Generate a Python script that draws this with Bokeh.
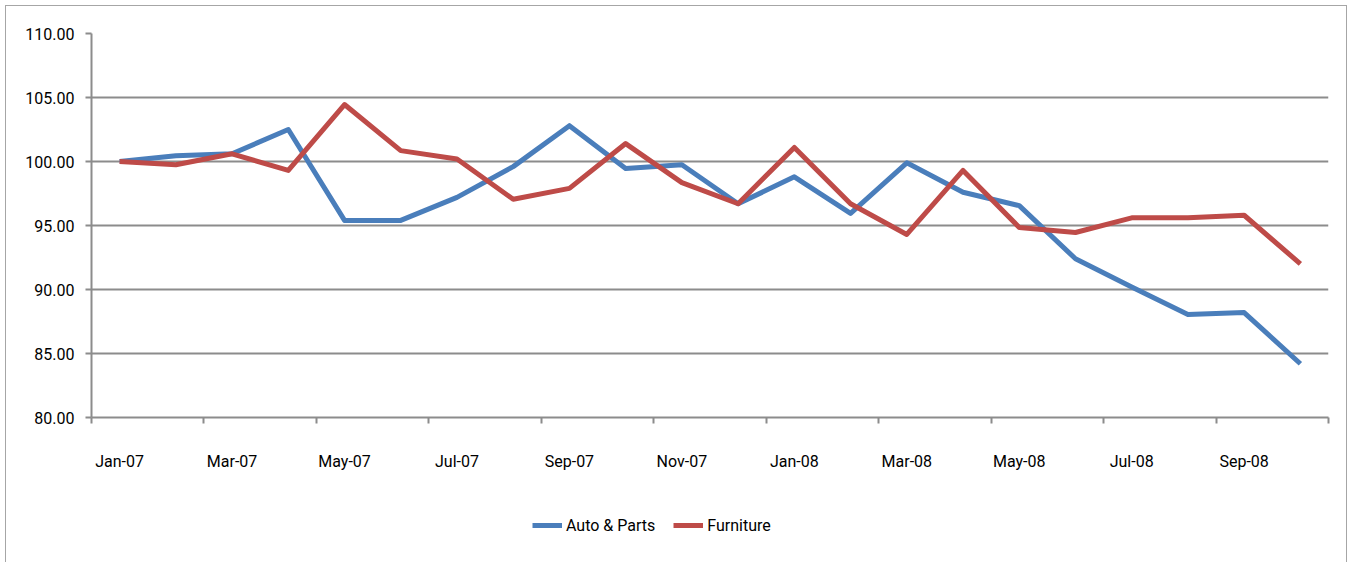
from bokeh.plotting import figure
from bokeh.layouts import column
from bokeh.models import (Legend, LegendItem, FixedTicker, LinearAxis, Range1d,
                          CustomJSTickFormatter, NumeralTickFormatter, ColumnDataSource)
from bokeh.embed import file_html
from bokeh.resources import INLINE

months = ["Jan-07", "Feb-07", "Mar-07", "Apr-07", "May-07", "Jun-07", "Jul-07", "Aug-07",
          "Sep-07", "Oct-07", "Nov-07", "Dec-07", "Jan-08", "Feb-08", "Mar-08", "Apr-08",
          "May-08", "Jun-08", "Jul-08", "Aug-08", "Sep-08", "Oct-08"]
auto_parts = [100.0, 100.45, 100.6, 102.5, 95.4, 95.4, 97.2, 99.6, 102.8, 99.45, 99.75,
              96.7, 98.8, 95.95, 99.9, 97.6, 96.55, 92.4, 90.2, 88.05, 88.2, 84.2]
furniture = [100.0, 99.75, 100.6, 99.3, 104.45, 100.85, 100.2, 97.05, 97.9, 101.4, 98.35,
             96.7, 101.1, 96.7, 94.3, 99.3, 94.85, 94.45, 95.6, 95.6, 95.8, 92.0]
series_names = ["Auto & Parts", "Furniture"]
series_cols = ["auto", "furn"]
series_colors = ["#4a7ebb", "#be4b48"]
y_ticks = [80, 85, 90, 95, 100, 105, 110]

FONT = "Roboto"
FS = "16px"
n = len(months)
xs = [i + 0.5 for i in range(n)]
src = ColumnDataSource(dict(x=xs, auto=auto_parts, furn=furniture))

p = figure(width=1340, height=481, output_backend="svg", toolbar_location=None,
           x_range=Range1d(0, n), y_range=Range1d(80, 110),
           min_border_left=85, min_border_right=18, min_border_top=27, min_border_bottom=70,
           x_axis_type=None)
p.outline_line_color = None
p.xgrid.visible = False

# y axis
p.yaxis.ticker = FixedTicker(ticks=y_ticks)
p.yaxis.formatter = NumeralTickFormatter(format="0.00")
p.yaxis.axis_line_color = "#8c8c8c"
p.yaxis.axis_line_width = 2
p.yaxis.major_tick_line_color = "#8c8c8c"
p.yaxis.major_tick_line_width = 2
p.yaxis.major_tick_out = 6
p.yaxis.major_tick_in = 0
p.yaxis.minor_tick_line_color = None
p.yaxis.major_label_text_font = FONT
p.yaxis.major_label_text_font_size = FS
p.yaxis.major_label_text_color = "#000000"
p.yaxis.major_label_standoff = 11
p.ygrid.ticker = FixedTicker(ticks=y_ticks)
p.ygrid.grid_line_color = "#8c8c8c"
p.ygrid.grid_line_width = 2

# x axis: tick marks at category boundaries
ax1 = LinearAxis(ticker=FixedTicker(ticks=list(range(0, n + 1, 2))),
                 formatter=CustomJSTickFormatter(code="return '';"))
ax1.axis_line_color = "#8c8c8c"
ax1.axis_line_width = 2
ax1.major_tick_line_color = "#8c8c8c"
ax1.major_tick_line_width = 2
ax1.major_tick_out = 6
ax1.major_tick_in = 0
ax1.minor_tick_line_color = None
ax1.major_label_text_font_size = "1px"
ax1.major_label_standoff = 0
p.add_layout(ax1, "below")

ax2 = LinearAxis(ticker=FixedTicker(ticks=[i + 0.5 for i in range(0, n, 2)]),
                 formatter=CustomJSTickFormatter(args=dict(labels=months),
                     code="const i = Math.floor(tick); return (i >= 0 && i < labels.length) ? labels[i] : '';"))
ax2.axis_line_color = None
ax2.major_tick_line_color = None
ax2.minor_tick_line_color = None
ax2.major_label_text_font = FONT
ax2.major_label_text_font_size = FS
ax2.major_label_text_color = "#000000"
ax2.major_label_standoff = 22
p.add_layout(ax2, "below")

for col, color in zip(series_cols, series_colors):
    p.line("x", col, source=src, line_color=color, line_width=5, line_join="round")

# legend strip (its lines fall outside its ranges; only the legend shows)
lg = figure(width=1340, height=89, output_backend="svg", toolbar_location=None,
            x_range=Range1d(0, 1), y_range=Range1d(0, 1),
            min_border=0, x_axis_type=None, y_axis_type=None)
lg.outline_line_color = None
lg.grid.visible = False
items = []
for name, col, color in zip(series_names, series_cols, series_colors):
    r = lg.line("x", col, source=src, line_color=color, line_width=5)
    items.append(LegendItem(label=name, renderers=[r]))
legend = Legend(items=items, location=(441, 41), orientation="horizontal")
legend.padding = 0
legend.margin = 0
legend.border_line_color = None
legend.background_fill_alpha = 0
legend.glyph_width = 30
legend.label_standoff = 4
legend.spacing = 18
legend.label_text_font = FONT
legend.label_text_font_size = FS
legend.label_text_color = "#000000"
lg.add_layout(legend, "center")

layout = column(p, lg, spacing=0)
layout.styles = {"border": "1.5px solid #a6a6a6", "margin-top": "5px", "margin-left": "5px"}

open("out.html", "w").write(file_html(layout, INLINE))
